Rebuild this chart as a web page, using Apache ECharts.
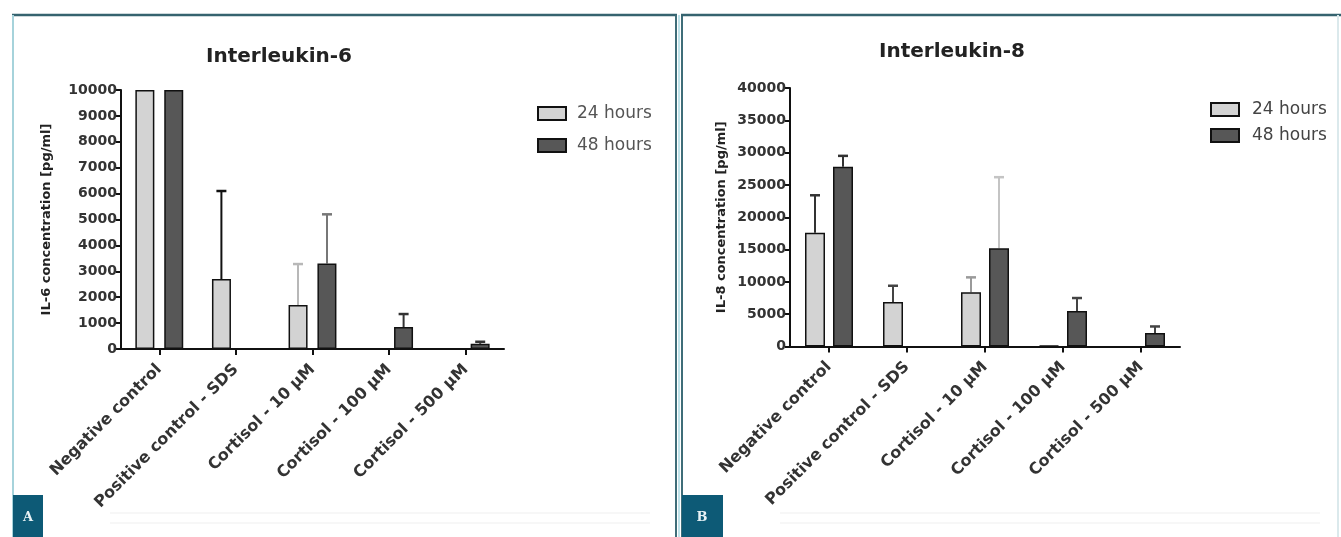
<!DOCTYPE html>
<html>
<head>
<meta charset="utf-8">
<script src="https://cdn.jsdelivr.net/npm/echarts@6/dist/echarts.min.js"></script>
<style>
html,body{margin:0;padding:0;background:#fff;}
#c{width:1341px;height:537px;}
</style>
</head>
<body>
<div id="c"></div>
<script>
// ---- data ----
var categories = ['Negative control', 'Positive control - SDS', 'Cortisol - 10 µM', 'Cortisol - 100 µM', 'Cortisol - 500 µM'];
var seriesNames = ['24 hours', '48 hours'];

// Panel A: Interleukin-6 (pg/ml)
var il6_24h = [10000, 2700, 1700, null, null];
var il6_48h = [10000, null, 3300, 850, 200];
var il6_24h_err = [0, 3400, 1580, 0, 0];
var il6_48h_err = [0, 0, 1900, 500, 80];
var il6Ticks = [0, 1000, 2000, 3000, 4000, 5000, 6000, 7000, 8000, 9000, 10000];

// Panel B: Interleukin-8 (pg/ml)
var il8_24h = [17600, 6900, 8400, 150, null];
var il8_48h = [27800, null, 15200, 5500, 2100];
var il8_24h_err = [5800, 2500, 2300, 0, 0];
var il8_48h_err = [1700, 0, 11000, 2000, 1000];
var il8Ticks = [0, 5000, 10000, 15000, 20000, 25000, 30000, 35000, 40000];

// ---- styles (not data) ----
var errColA24 = ['#111', '#111', '#b8b8b8', '#444', '#444'];
var errColA48 = ['#444', '#444', '#777', '#333', '#333'];
var errColB24 = ['#333', '#444', '#9a9a9a', '#444', '#444'];
var errColB48 = ['#333', '#444', '#c4c4c4', '#444', '#444'];

var FONT = 'DejaVu Sans';
var light = '#d3d3d3', dark = '#575757';

function errData(vals, errs) {
  var out = [];
  for (var i = 0; i < vals.length; i++) {
    if (vals[i] != null && errs[i] > 0) out.push([i, vals[i], errs[i]]);
  }
  return out;
}

function errSeries(xi, yi, vals, errs, offset, colors) {
  return {
    type: 'custom',
    xAxisIndex: xi, yAxisIndex: yi,
    silent: true, z: 1,
    data: errData(vals, errs),
    encode: {x: 0, y: 1},
    renderItem: function (params, api) {
      var idx = api.value(0);
      var v = api.value(1), e = api.value(2);
      var p0 = api.coord([idx, v]);
      var p1 = api.coord([idx, v + e]);
      var x = p0[0] + offset;
      var col = colors[idx];
      return {
        type: 'group',
        children: [
          {type: 'line', shape: {x1: x, y1: p0[1], x2: x, y2: p1[1]}, style: {stroke: col, lineWidth: 2}},
          {type: 'line', shape: {x1: x - 5, y1: p1[1], x2: x + 5, y2: p1[1]}, style: {stroke: col, lineWidth: 2.5}}
        ]
      };
    }
  };
}

function yAxis(gi, ticks, name, gap) {
  return {
    type: 'value', gridIndex: gi, min: ticks[0], max: ticks[ticks.length - 1], interval: ticks[1] - ticks[0],
    name: name, nameLocation: 'middle', nameGap: gap, nameRotate: 90,
    nameTextStyle: {fontFamily: FONT, fontSize: 13, fontWeight: 'bold', color: '#222'},
    axisLine: {show: true, lineStyle: {color: '#111', width: 2}},
    axisTick: {show: true, length: 5, lineStyle: {color: '#111', width: 2}},
    axisLabel: {fontFamily: FONT, fontSize: 14, fontWeight: 'bold', color: '#333', margin: 4,
      formatter: function (v) { return String(v); }},
    splitLine: {show: false}
  };
}

function xAxis(gi) {
  return {
    type: 'category', gridIndex: gi, data: categories,
    axisLine: {show: true, lineStyle: {color: '#111', width: 2}},
    axisTick: {show: true, alignWithLabel: true, length: 6, lineStyle: {color: '#111', width: 2}},
    axisLabel: {interval: 0, rotate: 45, fontFamily: FONT, fontSize: 16, fontWeight: 'bold', color: '#333', margin: 18}
  };
}

function barSeries(name, xi, yi, data, color, bw, gap) {
  return {
    name: name, type: 'bar', xAxisIndex: xi, yAxisIndex: yi, data: data,
    barWidth: bw, barGap: gap, z: 2,
    itemStyle: {color: color, borderColor: '#111', borderWidth: 1.5}
  };
}

var chart = echarts.init(document.getElementById('c'), null, {renderer: 'canvas'});

var option = {
  backgroundColor: '#ffffff',
  animation: false,
  title: [
    {text: 'Interleukin-6', left: 274, top: 42, textAlign: 'center',
     textStyle: {fontFamily: FONT, fontSize: 20, fontWeight: 'bold', color: '#222'}},
    {text: 'Interleukin-8', left: 947, top: 37, textAlign: 'center',
     textStyle: {fontFamily: FONT, fontSize: 20, fontWeight: 'bold', color: '#222'}}
  ],
  legend: [
    {data: seriesNames, orient: 'vertical', left: 532, top: 100, itemWidth: 28, itemHeight: 13, itemGap: 15, icon: 'rect',
     textStyle: {fontFamily: FONT, fontSize: 17, color: '#555', padding: [0, 0, 0, 6]}},
    {data: seriesNames, orient: 'vertical', left: 1205, top: 96, itemWidth: 28, itemHeight: 13, itemGap: 9, icon: 'rect',
     textStyle: {fontFamily: FONT, fontSize: 17, color: '#444', padding: [0, 0, 0, 8]}}
  ],
  grid: [
    {left: 121, top: 90, width: 383, height: 259},
    {left: 790, top: 88, width: 390, height: 258.5}
  ],
  xAxis: [xAxis(0), xAxis(1)],
  yAxis: [
    yAxis(0, il6Ticks, 'IL-6 concentration [pg/ml]', 68),
    yAxis(1, il8Ticks, 'IL-8 concentration [pg/ml]', 62)
  ],
  series: [
    barSeries(seriesNames[0], 0, 0, il6_24h, light, 19, '52%'),
    barSeries(seriesNames[1], 0, 0, il6_48h, dark, 19, '52%'),
    barSeries(seriesNames[0], 1, 1, il8_24h, light, 20, '40%'),
    barSeries(seriesNames[1], 1, 1, il8_48h, dark, 20, '40%'),
    errSeries(0, 0, il6_24h, il6_24h_err, -14.5, errColA24),
    errSeries(0, 0, il6_48h, il6_48h_err, 14.5, errColA48),
    errSeries(1, 1, il8_24h, il8_24h_err, -14, errColB24),
    errSeries(1, 1, il8_48h, il8_48h_err, 14, errColB48)
  ],
  graphic: [
    // panel frames
    {type: 'line', shape: {x1: 12, y1: 15, x2: 677, y2: 15}, style: {stroke: '#35636f', lineWidth: 2.5}, z: 10},
    {type: 'line', shape: {x1: 13, y1: 15, x2: 13, y2: 537}, style: {stroke: '#a6d3db', lineWidth: 2}, z: 10},
    {type: 'line', shape: {x1: 676, y1: 15, x2: 676, y2: 537}, style: {stroke: '#3f6d79', lineWidth: 2}, z: 10},
    {type: 'line', shape: {x1: 679, y1: 15, x2: 679, y2: 537}, style: {stroke: '#bfe3ea', lineWidth: 2}, z: 10},
    {type: 'line', shape: {x1: 682, y1: 15, x2: 682, y2: 537}, style: {stroke: '#3f6d79', lineWidth: 2}, z: 10},
    {type: 'line', shape: {x1: 681, y1: 15, x2: 1341, y2: 15}, style: {stroke: '#35636f', lineWidth: 2.5}, z: 10},
    {type: 'line', shape: {x1: 1338, y1: 15, x2: 1338, y2: 537}, style: {stroke: '#dbe9ec', lineWidth: 2}, z: 10},
    // faint bottom rules
    {type: 'line', shape: {x1: 110, y1: 513, x2: 650, y2: 513}, style: {stroke: '#efefef', lineWidth: 1}},
    {type: 'line', shape: {x1: 110, y1: 523, x2: 650, y2: 523}, style: {stroke: '#efefef', lineWidth: 1}},
    {type: 'line', shape: {x1: 780, y1: 513, x2: 1320, y2: 513}, style: {stroke: '#efefef', lineWidth: 1}},
    {type: 'line', shape: {x1: 780, y1: 523, x2: 1320, y2: 523}, style: {stroke: '#efefef', lineWidth: 1}},
    // panel labels
    {type: 'rect', shape: {x: 13, y: 495, width: 30, height: 42}, style: {fill: '#0d5a76'}, z: 11},
    {type: 'text', x: 28, y: 518, z: 12, style: {text: 'A', fill: '#e8f2f5', font: 'bold 13px "DejaVu Serif"', align: 'center', verticalAlign: 'middle'}},
    {type: 'rect', shape: {x: 682, y: 495, width: 41, height: 42}, style: {fill: '#0d5a76'}, z: 11},
    {type: 'text', x: 702, y: 518, z: 12, style: {text: 'B', fill: '#e8f2f5', font: 'bold 13px "DejaVu Serif"', align: 'center', verticalAlign: 'middle'}}
  ]
};
chart.setOption(option);
</script>
</body>
</html>
